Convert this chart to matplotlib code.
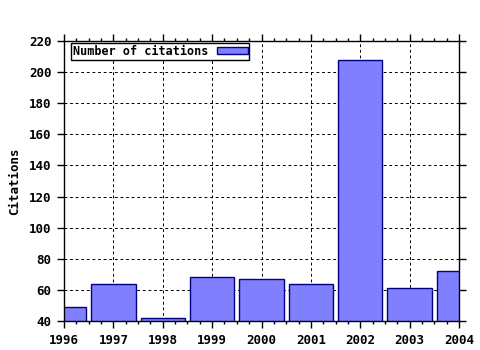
import matplotlib
matplotlib.use("Agg")
import matplotlib.pyplot as plt
from matplotlib.ticker import MultipleLocator

years = [1996, 1997, 1998, 1999, 2000, 2001, 2002, 2003, 2004]
citations = [49, 64, 42, 68, 67, 64, 208, 61, 72]

plt.rcParams['font.family'] = ['DejaVu Sans Mono']
plt.rcParams['font.weight'] = 'bold'

fig = plt.figure(figsize=(4.8, 3.5), dpi=100)
ax = fig.add_axes([64/480, 1-321/350, (459-64)/480, (321-41)/350])

ax.bar(years, citations, width=0.9, bottom=0, color='#8080ff', edgecolor='#000080',
       linewidth=1, label='Number of citations', zorder=2)
ax.set_xlim(1996, 2004)
ax.set_ylim(40, 220)
ax.set_xticks(years)
ax.set_yticks(range(40, 221, 20))
ax.xaxis.set_minor_locator(MultipleLocator(0.25))
ax.grid(True, which='major', linestyle=(0, (2.8, 2.8)), color='black', linewidth=0.72, zorder=1)
ax.tick_params(which='major', direction='out', length=5, top=True, right=True,
               labelsize=9, width=1)
ax.tick_params(axis='x', which='major', pad=4)
ax.tick_params(axis='y', which='major', pad=4)
ax.tick_params(axis='x', which='minor', direction='out', length=2, top=True, width=1)
for s in ax.spines.values():
    s.set_linewidth(1)
ax.set_ylabel('Citations', fontsize=9, fontweight='bold', labelpad=6)
for lab in ax.get_xticklabels() + ax.get_yticklabels():
    lab.set_fontweight('bold')
leg = ax.legend(loc='upper left', bbox_to_anchor=(7/395, 1-2/280), borderaxespad=0,
                frameon=True, fancybox=False, framealpha=1, markerfirst=False,
                edgecolor='black', borderpad=0.15, handlelength=2.6, handleheight=0.55,
                handletextpad=0.75,
                prop={'family': 'DejaVu Sans Mono', 'weight': 'bold', 'size': 8.5})
leg.get_frame().set_linewidth(1)
fig.savefig('out.png', dpi=100)
